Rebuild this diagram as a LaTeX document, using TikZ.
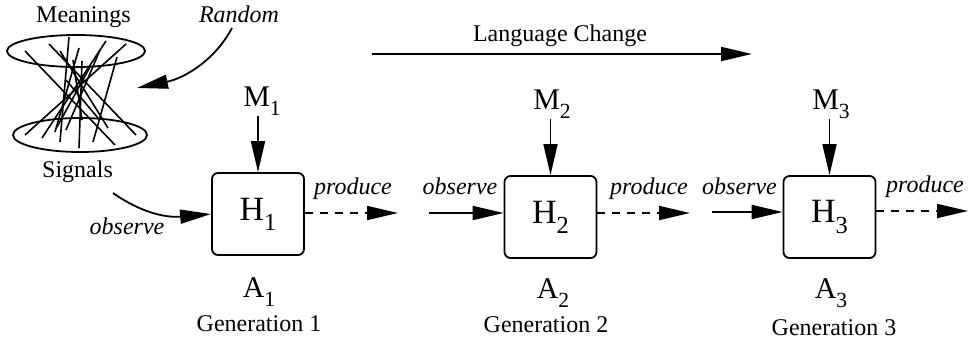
\documentclass[tikz,border=0pt]{standalone}
\usepackage{fontspec}
\setmainfont{Liberation Serif}
\usetikzlibrary{arrows.meta}
\newcommand\subx[1]{\raisebox{-0.3em}{\scalebox{0.72}{#1}}}
\begin{document}
\begin{tikzpicture}[x=1pt,y=-1pt,
  lw/.style={line width=1.8pt},
  tip/.style={-{Triangle[length=31pt,width=14pt]}},
  hbox/.style={draw,line width=1.8pt,rounded corners=6pt,minimum width=92pt,minimum height=82pt,inner sep=0pt,font=\fontsize{34}{38}\selectfont},
  lab/.style={inner sep=0pt,anchor=base,font=\fontsize{24}{28}\selectfont},
  itl/.style={inner sep=0pt,anchor=base,font=\fontsize{24}{28}\selectfont\itshape},
  big/.style={inner sep=0pt,anchor=base,font=\fontsize{30}{34}\selectfont},
  dsh/.style={dash pattern=on 8pt off 7pt}]
\useasboundingbox (0,0) rectangle (969,344);

% meanings / signals tangle
\node[lab] (mean) at (83.5,23) {Meanings};
\node[lab] (sig) at (77.5,178) {Signals};
\draw[lw] (76,51) ellipse [x radius=69, y radius=16];
\draw[lw] (80,135) ellipse [x radius=67, y radius=17];
\foreach \xa/\ya/\xb/\yb in {25/51/115/145, 49/44/136/135, 60/51/108/128, 69/37/60/142,
  79/48/55/132, 82/61/79/148, 106/41/42/138, 126/44/25/135, 117/57/93/142,
  66/80/98/118, 90/67/57/127, 100/50/66/130, 73/60/82/120}
  \draw[line width=1.6pt] (\xa,\ya) -- (\xb,\yb);

% random
\node[itl] (rnd) at (239,23) {Random};
\coordinate (r0) at (232,28);
\coordinate (r1) at (137,88);
\draw[lw,tip] (r0) .. controls (215,60) and (185,78) .. (r1);

% language change
\node[lab] (lc) at (560,42) {Language Change};
\coordinate (l0) at (372,54);
\coordinate (l1) at (752,54);
\draw[lw,tip] (l0) -- (l1);

% boxes
\node[hbox] (H1) at (258,214) {H\subx{1}};
\node[hbox] (H2) at (550.5,217) {H\subx{2}};
\node[hbox] (H3) at (829.5,217) {H\subx{3}};

% M labels
\node[big] (M1) at (262,107) {M\subx{1}};
\node[big] (M2) at (552,110) {M\subx{2}};
\node[big] (M3) at (831,110) {M\subx{3}};
\draw[lw,tip] (H1.north |- M1.south) -- (H1.north);
\draw[lw,tip] (H2.north |- M2.south) -- (H2.north);
\draw[lw,tip] (H3.north |- M3.south) -- (H3.north);

% A labels and generations
\node[big] (A1) at (259,298) {A\subx{1}};
\node[big] (A2) at (553,299) {A\subx{2}};
\node[big] (A3) at (831,299) {A\subx{3}};
\node[lab] (G1) at (259,332) {Generation 1};
\node[lab] (G2) at (546,333) {Generation 2};
\node[lab] (G3) at (834,336) {Generation 3};

% observe arrows
\coordinate (s0) at (113,193);
\draw[lw,tip] (s0) .. controls (140,212) and (165,218) .. (H1.west);
\node[itl] (ob1) at (127,235) {observe};
\coordinate (o2) at (429,213);
\draw[lw,tip] (o2) -- (H2.west |- o2);
\node[itl] (ob2) at (460,195) {observe};
\coordinate (o3) at (712,212);
\draw[lw,tip] (o3) -- (H3.west |- o3);
\node[itl] (ob3) at (739.5,195) {observe};

% produce arrows
\coordinate (p1) at (398,213);
\draw[lw,dsh,tip] (H1.east |- p1) -- (p1);
\node[itl] (pr1) at (353,195) {produce};
\coordinate (p2) at (690,213);
\draw[lw,dsh,tip] (H2.east |- p2) -- (p2);
\node[itl] (pr2) at (649,195) {produce};
\coordinate (p3) at (968,211);
\draw[lw,dsh,tip] (H3.east |- p3) -- (p3);
\node[itl] (pr3) at (925,193) {produce};
\end{tikzpicture}
\end{document}
